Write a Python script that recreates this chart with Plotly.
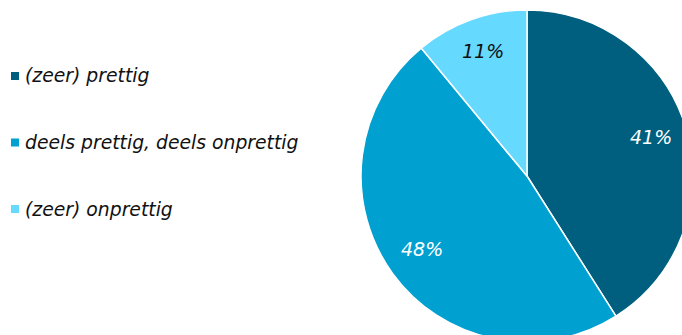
import math
import plotly.graph_objects as go

# Survey answers and their shares (percent)
labels = ["(zeer) prettig", "deels prettig, deels onprettig", "(zeer) onprettig"]
shares = [41, 48, 11]
colors = ["#005F7F", "#00A1D1", "#66D9FF"]
label_colors = ["#FFFFFF", "#FFFFFF", "#111111"]

W, H = 700, 350
FONT = "DejaVu Sans, Verdana, sans-serif"

# Pie placement in pixels (centre and radius)
CX, CY, R = 527, 176, 166

fig = go.Figure(
    go.Pie(
        labels=labels,
        values=shares,
        sort=False,
        direction="clockwise",
        rotation=0,
        marker=dict(colors=colors, line=dict(color="#FFFFFF", width=1.5)),
        textinfo="none",
        domain=dict(x=[(CX - R) / W, (CX + R) / W], y=[1 - (CY + R) / H, 1 - (CY - R) / H]),
        showlegend=False,
        hoverinfo="label+percent",
    )
)

annotations = []

# Percentage labels on each slice, placed along the slice's mid angle
total = sum(shares)
start = 0.0
for val, tc in zip(shares, label_colors):
    mid = (start + val / 2) / total * 2 * math.pi
    start += val
    px = CX + 0.78 * R * math.sin(mid)
    py = CY - 0.78 * R * math.cos(mid) - 3
    annotations.append(dict(
        text=f"{val}%", xref="paper", yref="paper", x=px / W, y=1 - py / H,
        xanchor="center", yanchor="middle", showarrow=False,
        font=dict(family=FONT, size=19, color=tc, style="italic"),
    ))

# Hand-built legend: coloured square + italic label per answer
legend_y = [76, 142.5, 209]
shapes = []
for lab, col, yp in zip(labels, colors, legend_y):
    shapes.append(dict(
        type="rect", xref="paper", yref="paper",
        x0=11 / W, x1=19 / W, y0=1 - (yp + 4) / H, y1=1 - (yp - 4) / H,
        fillcolor=col, line=dict(width=0),
    ))
    annotations.append(dict(
        text=lab, xref="paper", yref="paper", x=23 / W, y=1 - yp / H,
        xanchor="left", yanchor="middle", showarrow=False,
        font=dict(family=FONT, size=18.8, color="#111111", style="italic"),
    ))

fig.update_layout(
    width=W, height=H,
    margin=dict(l=0, r=0, t=0, b=0),
    paper_bgcolor="#FFFFFF", plot_bgcolor="#FFFFFF",
    shapes=shapes, annotations=annotations,
)

fig.write_html(
    "out.html",
    post_script="document.documentElement.style.overflow='hidden';document.body.style.overflow='hidden';",
)
